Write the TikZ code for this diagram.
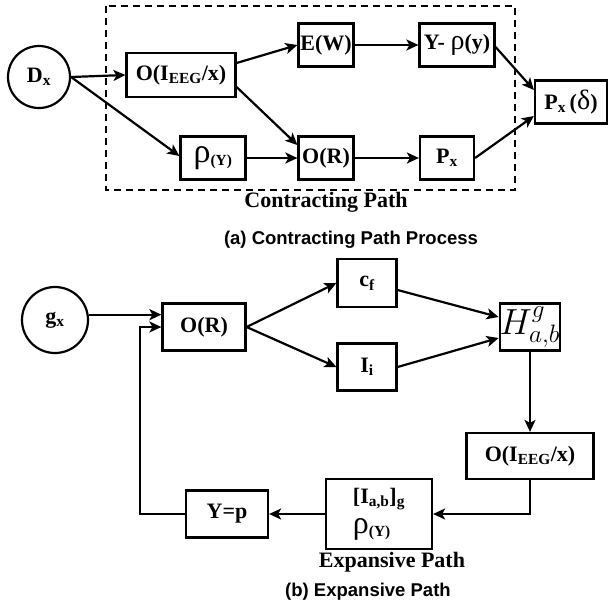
\documentclass[tikz,border=0pt]{standalone}
\usepackage{fontspec}
\setmainfont{Liberation Serif}
\newfontfamily\capfont{Liberation Sans}
\usetikzlibrary{arrows.meta,calc}
\newcommand{\rhof}[1][28]{\fontsize{#1}{30}\selectfont\mdseries}
\begin{document}
\begin{tikzpicture}[x=1pt,y=-1pt,
  lw/.style={line width=2.2pt},
  blk/.style={draw,lw,inner sep=0pt,align=center,font=\fontsize{22}{30}\selectfont\bfseries},
  circ/.style={draw,lw,circle,inner sep=0pt,font=\fontsize{22}{30}\selectfont\bfseries},
  arr/.style={lw,-{Stealth[length=12pt,width=11pt,inset=3pt]}},
  lbl/.style={font=\fontsize{22}{26}\selectfont\bfseries},
  captxt/.style={font=\capfont\fontsize{18.5}{22}\selectfont\bfseries}
]
\useasboundingbox (0,0) rectangle (610,606);
% ---------- (a) ----------
\draw[lw,dash pattern=on 7pt off 5pt] (106,6) rectangle (515,190);
\node[circ,minimum size=62pt] (Dx) at (39,77) {D\textsubscript{x}};
\node[blk,minimum width=109pt,minimum height=44pt] (OI1) at (181,75) {O(I\textsubscript{EEG}/x)};
\node[blk,minimum width=65pt,minimum height=43pt] (rho1) at (213,158) {{\rhof[34]ρ}\textsubscript{(Y)}};
\node[blk,minimum width=55pt,minimum height=43pt] (EW) at (326,45) {E(W)};
\node[blk,minimum width=75pt,minimum height=43pt] (Yrho) at (457,45) {Y-~{\rhof ρ}(y)};
\node[blk,minimum width=55pt,minimum height=43pt] (OR1) at (326,158) {O(R)};
\node[blk,minimum width=54pt,minimum height=43pt] (Px1) at (447,158) {P\textsubscript{x}};
\node[blk,minimum width=72pt,minimum height=43pt] (Pxd) at (571,102) {P\textsubscript{x}\,({\rhof δ})};
\node[lbl] (lc) at (326,202) {Contracting Path};
\node[captxt] (capa) at (351,240) {(a) Contracting Path Process};
\draw[arr] (Dx.east) -- (OI1.west);
\draw[arr] (Dx.east) -- ($(rho1.west)+(0,-2)$);
\draw[arr] ($(OI1.east)+(0,-12)$) -- (EW.west);
\draw[arr] ($(OI1.east)+(0,12)$) -- ($(OR1.west)+(0,-13)$);
\draw[arr] (rho1.east) -- (OR1.west);
\draw[arr] (EW.east) -- (Yrho.west);
\draw[arr] (OR1.east) -- (Px1.west);
\draw[arr] ($(Yrho.east)+(0,2)$) -- ($(Pxd.west)+(0,-12)$);
\draw[arr] (Px1.east) -- ($(Pxd.west)+(0,14)$);
% ---------- (b) ----------
\node[circ,minimum size=66pt] (gx) at (55,320) {g\textsubscript{x}};
\node[blk,minimum width=83pt,minimum height=47pt] (OR2) at (204,327) {O(R)};
\node[blk,minimum width=59pt,minimum height=48pt] (cf) at (367,283) {c\textsubscript{f}};
\node[blk,minimum width=59pt,minimum height=47pt] (Ii) at (367,367) {I\textsubscript{i}};
\node[blk,minimum width=58pt,minimum height=47pt] (H) at (530,327) {\scalebox{1.75}{$H^{g}_{a,b}$}};
\node[blk,minimum width=127pt,minimum height=46pt] (OI2) at (530,456) {O(I\textsubscript{EEG}/x)};
\node[blk,minimum width=106pt,minimum height=70pt,align=left] (Iab) at (379,514) {[I\textsubscript{a,b}]\textsubscript{g}\\{\rhof[32]ρ}\textsubscript{(Y)}};
\node[blk,minimum width=82pt,minimum height=47pt] (Yp) at (227,514) {Y=p};
\node[lbl] (le) at (392,562) {Expansive Path};
\node[captxt] (capb) at (368,592) {(b) Expansive Path};
\coordinate (fb) at (140,514);
\draw[arr] (gx.9) -- (gx.9 -| OR2.west);
\draw[arr] (Yp.west) -- (fb) |- (OR2.west);
\draw[arr] (OR2.east) -- (cf.west);
\draw[arr] (OR2.east) -- (Ii.west);
\draw[arr] ($(cf.east)+(0,7)$) -- ($(H.west)+(0,-10)$);
\draw[arr] (Ii.east) -- ($(H.west)+(0,11)$);
\draw[arr] (H.south) -- (OI2.north);
\draw[arr] (OI2.south) |- (Iab.east);
\draw[arr] (Iab.west) -- (Yp.east);
\end{tikzpicture}
\end{document}
